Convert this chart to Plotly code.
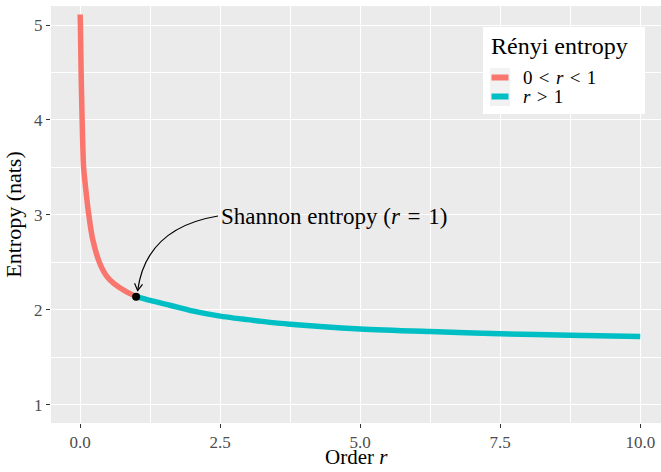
import math
import plotly.graph_objects as go

# ---------------- data ----------------
r_low = [0.001, 0.005, 0.018, 0.036, 0.047, 0.062, 0.09, 0.155, 0.226, 0.345, 0.48, 0.60, 0.80, 1.0]
H_low = [5.11, 5.00, 4.50, 4.00, 3.75, 3.50, 3.33, 3.00, 2.74, 2.50, 2.35, 2.28, 2.20, 2.14]

r_high = [1.0, 1.25, 1.6, 2.0, 2.5, 3.25, 3.75, 5.0, 6.25, 7.5, 8.75, 10.0]
H_high = [2.14, 2.10, 2.05, 1.99, 1.935, 1.88, 1.85, 1.80, 1.772, 1.75, 1.735, 1.72]

shannon_r = [1.0]
shannon_H = [2.14]

x_ticks = [0, 2.5, 5, 7.5, 10]
x_tick_labels = ["0.0", "2.5", "5.0", "7.5", "10.0"]
y_ticks = [1, 2, 3, 4, 5]
y_tick_labels = ["1", "2", "3", "4", "5"]

HS = "\u200a"  # hair space, mimics TeX relation spacing
x_title = "Order <i>r</i>"
y_title = "Entropy (nats)"
legend_title = "Rényi entropy"
legend_labels = ["0 " + HS + "&lt;" + HS + " <i>r</i> " + HS + "&lt;" + HS + " 1",
                 "<i>r</i> " + HS + "&gt;" + HS + " 1"]
annotation_text = "Shannon entropy (<i>r</i> " + HS + "=" + HS + " 1)"
colors = ["#F8766D", "#00BFC4"]

# ---------------- layout geometry ----------------
W, H = 661, 472
ML, MR, MT, MB = 51, 0, 6, 49
XR = [-0.52, 10.37]
YR = [0.81, 5.20]
PW, PH = W - ML - MR, H - MT - MB
FONT = "Liberation Serif"


def px2x(px):
    return XR[0] + (px - ML) / PW * (XR[1] - XR[0])


def py2y(py):
    return YR[0] + (MT + PH - py) / PH * (YR[1] - YR[0])


def x2px(x):
    return ML + (x - XR[0]) / (XR[1] - XR[0]) * PW


def y2py(y):
    return MT + PH - (y - YR[0]) / (YR[1] - YR[0]) * PH


def pxp(px):
    return (px - ML) / PW


def pyp(py):
    return (MT + PH - py) / PH


fig = go.Figure()
fig.add_trace(go.Scatter(x=r_low, y=H_low, mode="lines", name="0 < r < 1",
                         line=dict(color=colors[0], width=5.5, shape="spline", smoothing=1.0),
                         showlegend=False))
fig.add_trace(go.Scatter(x=r_high, y=H_high, mode="lines", name="r > 1",
                         line=dict(color=colors[1], width=5.5, shape="spline", smoothing=0.8),
                         showlegend=False))
fig.add_trace(go.Scatter(x=shannon_r, y=shannon_H, mode="markers", name="Shannon",
                         marker=dict(color="black", size=8), showlegend=False))

shapes = []
annotations = []

# curved arrow from label to Shannon point
tip_px = (x2px(shannon_r[0]) + 1.5, y2py(shannon_H[0]) - 6)
start_px = (218, 216)
ctrl_px = (146, 228)
path = "M {:.4f},{:.4f} Q {:.4f},{:.4f} {:.4f},{:.4f}".format(
    px2x(start_px[0]), py2y(start_px[1]), px2x(ctrl_px[0]), py2y(ctrl_px[1]),
    px2x(tip_px[0]), py2y(tip_px[1]))
shapes.append(dict(type="path", path=path, xref="x", yref="y",
                   line=dict(color="black", width=1.2)))
dx, dy = tip_px[0] - ctrl_px[0], tip_px[1] - ctrl_px[1]
n = math.hypot(dx, dy)
bx, by = -dx / n, -dy / n
L = 8
pts = []
for ang in (math.radians(30), math.radians(-30)):
    rx = bx * math.cos(ang) - by * math.sin(ang)
    ry = bx * math.sin(ang) + by * math.cos(ang)
    pts.append((tip_px[0] + L * rx, tip_px[1] + L * ry))
head = "M {:.4f},{:.4f} L {:.4f},{:.4f} L {:.4f},{:.4f}".format(
    px2x(pts[0][0]), py2y(pts[0][1]), px2x(tip_px[0]), py2y(tip_px[1]),
    px2x(pts[1][0]), py2y(pts[1][1]))
shapes.append(dict(type="path", path=head, xref="x", yref="y",
                   line=dict(color="black", width=1.2)))

annotations.append(dict(x=pxp(219), y=pyp(216), xref="paper", yref="paper",
                        text=annotation_text, showarrow=False,
                        xanchor="left", yanchor="middle",
                        font=dict(family=FONT, size=23, color="black")))

# x axis title (placed like ggplot's)
annotations.append(dict(x=0.5, y=pyp(471), xref="paper", yref="paper",
                        text=x_title, showarrow=False,
                        xanchor="center", yanchor="bottom",
                        font=dict(family=FONT, size=21, color="black")))

# manual legend (ggplot style)
shapes.append(dict(type="rect", xref="paper", yref="paper",
                   x0=pxp(483), x1=pxp(645), y0=pyp(114), y1=pyp(27),
                   fillcolor="white", line=dict(width=0), layer="above"))
key_centers = [77.5, 96.5]
for i, yc in enumerate(key_centers):
    shapes.append(dict(type="rect", xref="paper", yref="paper",
                       x0=pxp(490), x1=pxp(510), y0=pyp(yc + 9.5), y1=pyp(yc - 9.5),
                       fillcolor="#F2F2F2", line=dict(width=0), layer="above"))
    shapes.append(dict(type="line", xref="paper", yref="paper",
                       x0=pxp(491.5), x1=pxp(508.5), y0=pyp(yc), y1=pyp(yc),
                       line=dict(color=colors[i], width=6), layer="above"))
    annotations.append(dict(x=pxp(521), y=pyp(yc), xref="paper", yref="paper",
                            text=legend_labels[i], showarrow=False,
                            xanchor="left", yanchor="middle",
                            font=dict(family=FONT, size=19, color="black")))
annotations.append(dict(x=pxp(489), y=pyp(46), xref="paper", yref="paper",
                        text=legend_title, showarrow=False,
                        xanchor="left", yanchor="middle",
                        font=dict(family=FONT, size=24, color="black")))

fig.update_layout(
    width=W, height=H,
    margin=dict(l=ML, r=MR, t=MT, b=MB, pad=0, autoexpand=False),
    paper_bgcolor="white", plot_bgcolor="#EBEBEB",
    font=dict(family=FONT, color="black"),
    shapes=shapes, annotations=annotations,
    showlegend=False,
)
fig.update_xaxes(
    range=XR, tickmode="array", tickvals=x_ticks, ticktext=x_tick_labels,
    automargin=False,
    showgrid=True, gridcolor="white", gridwidth=1.1, zeroline=False,
    minor=dict(dtick=1.25, tick0=0, showgrid=True, gridcolor="white", gridwidth=0.55, ticks=""),
    ticks="outside", ticklen=4, tickwidth=1.1, tickcolor="#333333",
    tickfont=dict(family=FONT, size=17, color="#4D4D4D"),
    showline=False,
)
fig.update_yaxes(
    range=YR, tickmode="array", tickvals=y_ticks, ticktext=y_tick_labels,
    automargin=False,
    showgrid=True, gridcolor="white", gridwidth=1.1, zeroline=False,
    minor=dict(dtick=0.5, tick0=0, showgrid=True, gridcolor="white", gridwidth=0.55, ticks=""),
    ticks="outside", ticklen=4, tickwidth=1.1, tickcolor="#333333",
    tickfont=dict(family=FONT, size=17, color="#4D4D4D"),
    showline=False,
    title=dict(text=y_title, font=dict(family=FONT, size=22, color="black"), standoff=6),
)

fig.write_html("out.html",
               config={"displayModeBar": False},
               post_script="document.body.style.margin='0';document.body.style.padding='0';")
